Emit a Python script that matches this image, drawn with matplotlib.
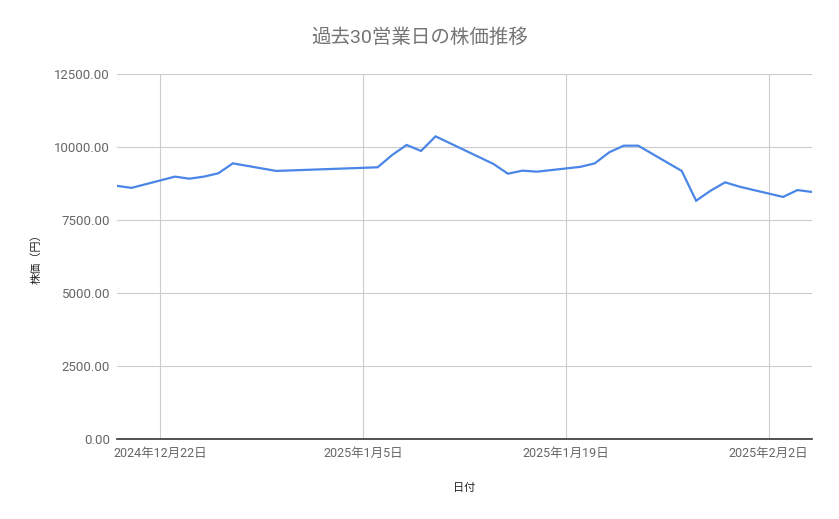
import datetime
import matplotlib
matplotlib.use("Agg")
import matplotlib.pyplot as plt
import matplotlib.dates as mdates
from matplotlib.ticker import FuncFormatter

plt.rcParams['font.family'] = ['Roboto', 'Noto Sans CJK JP', 'DejaVu Sans']

# daily closes
dates = ['2024-12-19', '2024-12-20', '2024-12-23', '2024-12-24', '2024-12-25',
         '2024-12-26', '2024-12-27', '2024-12-30', '2025-01-06', '2025-01-07',
         '2025-01-08', '2025-01-09', '2025-01-10', '2025-01-14', '2025-01-15',
         '2025-01-16', '2025-01-17', '2025-01-20', '2025-01-21', '2025-01-22',
         '2025-01-23', '2025-01-24', '2025-01-27', '2025-01-28', '2025-01-29',
         '2025-01-30', '2025-01-31', '2025-02-03', '2025-02-04', '2025-02-05']
prices = [8670, 8600, 8985, 8915, 8985, 9100, 9440, 9180, 9305, 9725,
          10070, 9865, 10365, 9420, 9085, 9190, 9155, 9320, 9440, 9820,
          10045, 10045, 9180, 8160, 8505, 8790, 8640, 8290, 8525, 8460]
tick_dates = ['2024-12-22', '2025-01-05', '2025-01-19', '2025-02-02']
y_ticks = [0, 2500, 5000, 7500, 10000, 12500]

x = [datetime.datetime.strptime(d, '%Y-%m-%d') for d in dates]
xt = [datetime.datetime.strptime(d, '%Y-%m-%d') for d in tick_dates]

fig = plt.figure(figsize=(8.39, 5.19), dpi=100)
ax = fig.add_axes([117/839, 80/519, 695/839, 365/519])

ax.plot(x, prices, color='#4a86e8', linewidth=1.6, solid_joinstyle='miter')

ax.set_xlim(x[0], x[-1])
ax.set_ylim(0, 12500)
ax.set_xticks(xt)
ax.xaxis.set_major_formatter(FuncFormatter(
    lambda v, pos: '{0.year}年{0.month}月{0.day}日'.format(mdates.num2date(v))))
ax.set_yticks(y_ticks)
ax.yaxis.set_major_formatter(FuncFormatter(lambda v, pos: '{:.2f}'.format(v)))

ax.grid(True, color='#cccccc', linewidth=0.8)
ax.set_axisbelow(True)
for s in ['top', 'right', 'left']:
    ax.spines[s].set_visible(False)
ax.spines['bottom'].set_color('#333333')
ax.spines['bottom'].set_linewidth(1.2)

ax.tick_params(axis='y', length=0, labelsize=9.5, labelcolor='#666666', pad=5)
ax.tick_params(axis='x', length=0, labelsize=9, labelcolor='#666666', pad=6)

fig.text(0.5, 1 - 38/519, '過去30営業日の株価推移', fontsize=14, color='#757575',
         ha='center', va='center')
ax.set_xlabel('日付', fontsize=8, color='#222222', labelpad=16)
ax.set_ylabel('株価（円）', fontsize=8, color='#222222', labelpad=9)

fig.savefig('out.png', dpi=100)
